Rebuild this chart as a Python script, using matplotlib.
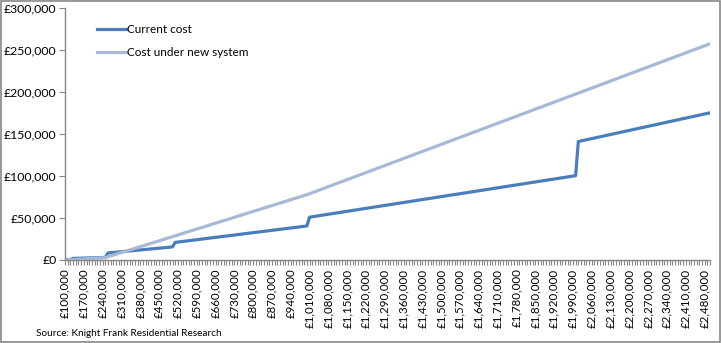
import matplotlib
matplotlib.use("Agg")
import matplotlib.pyplot as plt
from matplotlib.ticker import FuncFormatter, MultipleLocator
from matplotlib.patches import Rectangle

# Стоимость гербового сбора (точки излома линий, £)
price_current = [100000, 120000, 130000, 250000, 260000, 500000, 510000,
                 1000000, 1010000, 2000000, 2010000, 2500000]
cost_current = [0, 0, 1300, 2500, 7800, 15000, 20400,
                40000, 50500, 100000, 140700, 175000]

price_new = [100000, 130000, 140000, 250000, 1000000, 2500000]
cost_new = [0, 0, 100, 2300, 77300, 257300]

# подписи оси X (каждая 7-я категория)
x_ticks = [100000, 170000, 240000, 310000, 380000, 450000, 520000, 590000,
           660000, 730000, 800000, 870000, 940000, 1010000, 1080000, 1150000,
           1220000, 1290000, 1360000, 1430000, 1500000, 1570000, 1640000,
           1710000, 1780000, 1850000, 1920000, 1990000, 2060000, 2130000,
           2200000, 2270000, 2340000, 2410000, 2480000]
y_ticks = [0, 50000, 100000, 150000, 200000, 250000, 300000]

dark = '#4A7EBB'
light = '#A7B9D7'
grey = '#868686'

plt.rcParams['font.family'] = ['Lato', 'DejaVu Sans']

fig = plt.figure(figsize=(7.21, 3.43), dpi=100)
ax = fig.add_axes([65 / 721, 1 - 259.5 / 343, 645 / 721, 251.5 / 343])

ax.plot(price_current, cost_current, color=dark, lw=2.3, label='Current cost')
ax.plot(price_new, cost_new, color=light, lw=2.3, label='Cost under new system')

ax.set_xlim(100000, 2500000)
ax.set_ylim(0, 300000)

money = FuncFormatter(lambda v, p: '£{:,.0f}'.format(v))
ax.set_xticks(x_ticks)
ax.xaxis.set_major_formatter(money)
ax.xaxis.set_minor_locator(MultipleLocator(10000))
ax.set_yticks(y_ticks)
ax.yaxis.set_major_formatter(money)

for lbl in ax.get_xticklabels():
    lbl.set_rotation(90)
ax.tick_params(axis='x', which='both', length=3.5, width=0.8, color=grey,
               labelsize=8.3, pad=3)
ax.tick_params(axis='y', length=4, width=0.8, color=grey, labelsize=8.8, pad=2)

for s in ['top', 'right']:
    ax.spines[s].set_visible(False)
for s in ['left', 'bottom']:
    ax.spines[s].set_color(grey)
    ax.spines[s].set_linewidth(1)

leg = ax.legend(loc='upper left', bbox_to_anchor=(0.033, 0.98), frameon=False,
                fontsize=8.5, handlelength=2.45, handletextpad=0.12,
                labelspacing=1.05)

fig.text(36 / 721, 1 - 333 / 343, 'Source: Knight Frank Residential Research',
         fontsize=7.2, va='center', ha='left')

# рамка вокруг всей диаграммы
fig.patches.append(Rectangle((0.0007, 0.0015), 0.9986, 0.997, transform=fig.transFigure,
                             fill=False, edgecolor=grey, lw=1.2))

fig.savefig('out.png', dpi=100)
